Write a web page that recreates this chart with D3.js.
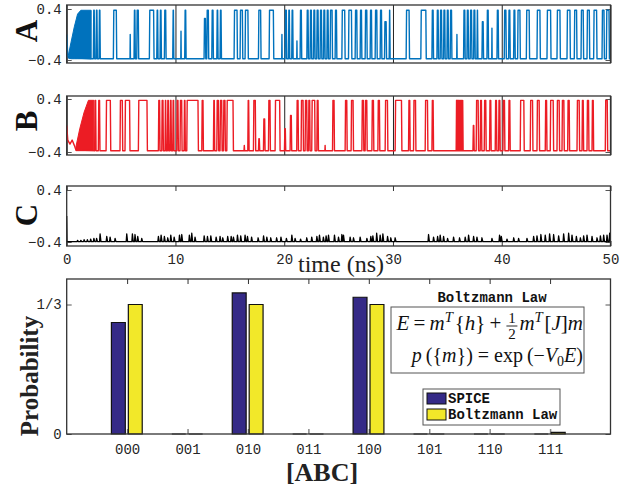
<!DOCTYPE html>
<html>
<head>
    <meta charset="utf-8">
    <title>SPICE vs Boltzmann</title>
</head>
<body>
<style type="text/css">
    body {
        margin: 0;
        background: #fff;
    }

    #renderer {
        width: 629px;
        height: 487px;
        background: #FFF;
        display: block;
    }

    .tick text {
        font-family: 'Liberation Mono', monospace;
        font-size: 14px;
        fill: #262626;
    }
</style>
<script type="text/javascript" src="https://cdnjs.cloudflare.com/ajax/libs/d3/7.8.5/d3.min.js"></script>
<svg id='renderer'></svg>

<script type="text/javascript">
    // ---- data ----
    var timeTicks = [0, 10, 20, 30, 40, 50];
    var levelTicks = [-0.4, 0.4];

    // A (blue) : start, fast burst envelope [t, low, high], pulses [start, end, top]
    var aStart = [[0, 0.0], [0.1, -0.33], [0.15, -0.36]];
    var aBurst = [[0.15, -0.37, -0.33], [0.4, -0.38, -0.12], [0.7, -0.38, 0.12], [1.0, -0.38, 0.32], [1.3, -0.38, 0.38], [2.25, -0.38, 0.38]];
    var aPulses = [
        [2.45, 2.57], [2.70, 2.82], [2.97, 3.09], [4.29, 4.60], [5.82, 5.86, 0.0], [6.19, 6.31], [6.44, 6.62], [7.60, 8.03],
        [8.28, 8.40], [8.58, 8.71], [8.98, 9.14], [9.75, 9.85], [10.49, 10.53, 0.05], [10.85, 10.98], [12.63, 12.79, 0.25],
        [12.88, 13.06], [13.34, 13.49], [13.80, 13.92], [14.10, 14.23], [15.39, 15.70], [15.94, 16.19], [16.40, 16.70],
        [17.63, 17.87], [18.61, 19.04], [19.77, 19.81, 0.0], [20.08, 20.23], [20.39, 20.51], [20.69, 20.82], [21.15, 21.19, -0.1],
        [21.46, 21.61], [22.08, 22.23], [22.38, 22.53], [22.69, 22.84], [22.99, 23.15], [23.30, 23.46], [23.61, 23.76],
        [23.92, 24.07], [24.22, 24.44], [24.68, 24.84], [25.30, 25.60], [25.91, 26.22], [26.52, 26.71], [26.98, 27.14],
        [27.44, 27.63], [27.90, 28.06], [28.36, 28.55], [28.82, 28.98], [29.22, 29.41, 0.2], [29.65, 29.74], [31.21, 31.52],
        [32.56, 33.06], [33.58, 33.73], [34.04, 34.19], [34.34, 34.50], [34.65, 34.80], [34.96, 35.11], [35.26, 35.42],
        [35.86, 35.90, 0.0], [36.49, 36.64], [36.80, 36.95], [37.10, 37.26], [37.41, 37.56], [37.72, 37.81], [38.18, 38.33, 0.2],
        [38.64, 38.79], [39.08, 39.12, 0.1], [39.56, 39.71], [40.23, 40.42], [40.63, 40.78], [41.09, 41.24], [41.46, 41.71],
        [42.26, 42.56], [43.24, 43.55], [44.16, 44.53], [45.08, 45.39], [46.00, 46.31], [46.67, 46.92], [47.29, 47.53],
        [47.84, 48.09], [48.45, 48.76], [49.22, 49.44], [49.62, 49.90]
    ];

    // B (red)
    var bStart = [[0, 0.0], [0.1, -0.22], [0.3, -0.28], [0.5, -0.22], [0.7, -0.3], [0.85, -0.37]];
    var bBurst = [[0.85, -0.38, -0.32], [1.2, -0.38, -0.05], [1.6, -0.38, 0.2], [2.0, -0.38, 0.38], [2.5, -0.38, 0.38]];
    var bPulses = [
        [2.57, 2.70], [2.91, 3.06], [3.62, 4.05], [4.90, 5.15], [5.36, 5.82], [6.59, 7.42], [8.43, 8.58], [8.74, 8.89],
        [9.04, 9.14], [9.26, 9.38], [9.50, 9.63], [9.75, 9.87], [10.12, 10.27], [10.42, 10.61], [10.79, 10.91], [11.04, 12.11],
        [12.42, 12.57], [13.49, 13.61], [13.80, 13.98], [14.10, 14.29], [14.41, 14.59], [14.72, 15.33], [16.30, 16.36, -0.3],
        [16.65, 16.77], [17.17, 17.38], [17.63, 17.75, -0.2], [18.09, 18.24, 0.1], [18.55, 18.73], [19.16, 19.62],
        [20.02, 20.14, -0.05], [20.54, 20.69, 0.15], [21.15, 21.31], [21.55, 21.77], [21.92, 22.11], [22.23, 22.38],
        [22.53, 22.84], [23.00, 23.15], [23.74, 23.78, -0.3], [24.44, 24.62], [25.60, 25.79], [26.15, 26.37], [27.14, 27.32],
        [27.44, 27.63], [28.06, 28.24], [28.61, 28.79], [29.28, 29.53], [30.20, 30.82], [31.43, 31.58], [31.89, 32.11],
        [32.96, 33.21], [33.58, 33.73], [35.81, 35.88], [35.92, 35.99], [36.03, 36.10], [36.14, 36.21], [36.25, 36.32],
        [36.36, 36.45], [37.35, 37.47, 0.0], [37.65, 37.87], [38.02, 38.17], [38.39, 38.57], [38.88, 39.03], [39.40, 39.55],
        [39.71, 39.86], [40.11, 40.29], [40.63, 40.78], [41.70, 42.07], [42.62, 42.87], [43.24, 43.48], [44.00, 44.16],
        [44.46, 44.77], [45.08, 45.32], [45.54, 45.75], [46.06, 46.24], [46.92, 47.16], [47.38, 47.53], [47.84, 48.02],
        [48.30, 48.45], [49.52, 49.74]
    ];

    // C (black) : start, small spikes [t, height above baseline]
    var cStart = [[0, 0.0], [0.03, -0.395]];
    var cSpikes = [
        [1.0, 0.02], [1.3, 0.02], [1.6, 0.03], [1.9, 0.03], [2.2, 0.04], [2.5, 0.05], [2.75, 0.05], [3.07, 0.12], [3.68, 0.08],
        [3.99, 0.07], [4.45, 0.05], [5.52, 0.12], [6.04, 0.12], [6.28, 0.11], [6.53, 0.08], [6.9, 0.05], [8.43, 0.08],
        [8.68, 0.1], [8.98, 0.08], [9.29, 0.06], [9.57, 0.1], [9.88, 0.07], [10.37, 0.1], [10.58, 0.11], [11.28, 0.1],
        [11.5, 0.13], [11.8, 0.07], [12.64, 0.09], [12.94, 0.08], [13.25, 0.09], [13.74, 0.07], [14.1, 0.08], [14.35, 0.06],
        [14.8, 0.08], [15.12, 0.08], [15.33, 0.07], [15.7, 0.1], [16.0, 0.09], [16.4, 0.1], [16.62, 0.08], [17.0, 0.07],
        [17.6, 0.06], [18.1, 0.09], [18.4, 0.07], [18.76, 0.06], [19.3, 0.06], [19.7, 0.07], [20.2, 0.05], [20.7, 0.1],
        [21.0, 0.05], [21.5, 0.04], [22.07, 0.06], [22.53, 0.07], [23.0, 0.08], [23.24, 0.1], [23.6, 0.07], [23.85, 0.09],
        [24.07, 0.1], [24.62, 0.1], [24.99, 0.07], [25.3, 0.11], [25.45, 0.1], [26.06, 0.07], [26.37, 0.06], [26.98, 0.07],
        [27.6, 0.05], [27.96, 0.08], [28.15, 0.09], [28.5, 0.13], [28.82, 0.1], [29.07, 0.12], [29.5, 0.08], [29.8, 0.06],
        [30.2, 0.06], [33.27, 0.11], [33.73, 0.07], [34.1, 0.08], [34.34, 0.1], [34.65, 0.08], [35.02, 0.05], [35.57, 0.07],
        [36.12, 0.06], [36.64, 0.07], [36.95, 0.1], [37.41, 0.08], [37.72, 0.07], [38.18, 0.06], [39.1, 0.05], [39.8, 0.1],
        [39.96, 0.08], [40.48, 0.04], [41.1, 0.06], [41.55, 0.05], [42.32, 0.05], [42.93, 0.08], [43.24, 0.09], [43.6, 0.11],
        [44.0, 0.1], [44.4, 0.12], [44.77, 0.11], [45.23, 0.09], [45.69, 0.12], [46.15, 0.13], [46.46, 0.1], [46.86, 0.08],
        [47.23, 0.06], [47.53, 0.09], [47.84, 0.1], [48.3, 0.08], [48.76, 0.06], [49.07, 0.09], [49.37, 0.1], [49.68, 0.1],
        [49.92, 0.13]
    ];

    // bar chart
    var states = ['000', '001', '010', '011', '100', '101', '110', '111'];
    var spiceProb = [0.287, 0, 0.363, 0, 0.352, 0, 0, 0];
    var boltzmannProb = [1 / 3, 0, 1 / 3, 0, 1 / 3, 0, 0, 0.004];
    var probTicks = [0, 1 / 3];
    var probTickLabels = ['0', '1/3'];
    var seriesNames = ['SPICE', 'Boltzmann Law'];
    var seriesColors = ['#352a87', '#f2e829'];

    // ---- layout ----
    var root = d3.select('#renderer');
    var plotLeft = 66.7;
    var plotRight = 610.5;
    var frameColor = '#333';

    var x = d3.scaleLinear().domain([0, 50]).range([plotLeft, plotRight]);

    var panels = [
        {label: 'A', top: 5, bottom: 63, hi: 9, lo: 60, color: '#0072bd', grid: true, labelY: 31},
        {label: 'B', top: 96, bottom: 155, hi: 99, lo: 152, color: '#ec1c24', grid: true, labelY: 121},
        {label: 'C', top: 186, bottom: 246, hi: 190, lo: 242, color: '#000', grid: false, labelY: 215}
    ];

    function pulseSignal(start, burst, pulses, low) {
        var pts = start.slice();
        pts.push([burst[burst.length - 1][0], low]);
        var rise = 0.04;
        for (var i = 0; i < pulses.length; i++) {
            var s = pulses[i][0], e = pulses[i][1];
            var top = pulses[i].length > 2 ? pulses[i][2] : 0.38;
            pts.push([s, low]);
            if (e - s > 2 * rise) {
                pts.push([s + rise, top]);
                pts.push([e - rise, top]);
            } else {
                pts.push([(s + e) / 2, top]);
            }
            pts.push([e, low]);
        }
        pts.push([50, low]);
        return pts;
    }

    function spikeSignal(start, spikes, base) {
        var pts = start.slice();
        for (var i = 0; i < spikes.length; i++) {
            var t = spikes[i][0];
            pts.push([t - 0.05, base]);
            pts.push([t, base + spikes[i][1]]);
            pts.push([t + 0.08, base]);
        }
        pts.push([50, base]);
        return pts;
    }

    var signals = [
        {pts: pulseSignal(aStart, aBurst, aPulses, -0.38), burst: aBurst},
        {pts: pulseSignal(bStart, bBurst, bPulses, -0.38), burst: bBurst},
        {pts: spikeSignal(cStart, cSpikes, -0.395), burst: null}
    ];

    panels.forEach(function (p, k) {
        var y = d3.scaleLinear().domain([-0.4, 0.4]).range([p.lo, p.hi]);
        var g = root.append('g');
        var h = p.bottom - p.top;

        // vertical grid (A, B) or inward ticks (C)
        if (p.grid) {
            g.append('g')
                .attr('transform', 'translate(0,' + p.bottom + ')')
                .call(d3.axisBottom(x).tickValues(timeTicks).tickSize(-h).tickFormat(''))
                .call(function (a) {
                    a.select('.domain').remove();
                    a.selectAll('line').attr('stroke', '#222').attr('stroke-width', 1);
                });
        } else {
            g.append('g')
                .attr('transform', 'translate(0,' + p.top + ')')
                .call(d3.axisTop(x).tickValues(timeTicks).tickSize(-5).tickFormat(''))
                .call(function (a) {
                    a.select('.domain').remove();
                    a.selectAll('line').attr('stroke', frameColor);
                });
            g.append('g')
                .attr('transform', 'translate(0,' + p.bottom + ')')
                .call(d3.axisBottom(x).tickValues(timeTicks).tickSize(-5).tickPadding(8).tickFormat(d3.format('d')))
                .call(function (a) {
                    a.select('.domain').remove();
                    a.selectAll('line').attr('stroke', frameColor);
                });
        }

        // y ticks left with labels, right without
        g.append('g')
            .attr('transform', 'translate(' + plotLeft + ',0)')
            .call(d3.axisLeft(y).tickValues(levelTicks).tickSize(-5).tickPadding(5).tickFormat(d3.format('.1f')))
            .call(function (a) {
                a.select('.domain').remove();
                a.selectAll('line').attr('stroke', '#555');
            });
        g.append('g')
            .attr('transform', 'translate(' + plotRight + ',0)')
            .call(d3.axisRight(y).tickValues(levelTicks).tickSize(-5).tickFormat(''))
            .call(function (a) {
                a.select('.domain').remove();
                a.selectAll('line').attr('stroke', '#555');
            });

        var s = signals[k];
        if (s.burst) {
            g.append('path')
                .datum(s.burst)
                .attr('d', d3.area()
                    .x(function (d) { return x(d[0]); })
                    .y0(function (d) { return y(d[1]); })
                    .y1(function (d) { return y(d[2]); }))
                .attr('fill', p.color)
                .attr('stroke', p.color)
                .attr('stroke-width', 1);
        }
        g.append('path')
            .datum(s.pts)
            .attr('d', d3.line()
                .x(function (d) { return x(d[0]); })
                .y(function (d) { return y(d[1]); }))
            .attr('fill', 'none')
            .attr('stroke', p.color)
            .attr('stroke-width', k < 2 ? 1.4 : 1.3)
            .attr('stroke-linejoin', 'round');

        // frame
        g.append('rect')
            .attr('x', plotLeft).attr('y', p.top)
            .attr('width', plotRight - plotLeft).attr('height', h)
            .attr('fill', 'none').attr('stroke', frameColor).attr('stroke-width', 1.3);

        // panel letter
        root.append('text')
            .text(p.label)
            .attr('x', 37).attr('y', p.labelY)
            .attr('transform', 'rotate(-90,37,' + p.labelY + ')')
            .attr('text-anchor', 'middle')
            .attr('font-family', 'Liberation Serif')
            .attr('font-weight', 'bold')
            .attr('font-size', 31)
            .attr('fill', '#111');
    });

    root.append('text')
        .text('time (ns)')
        .attr('x', 341).attr('y', 272)
        .attr('text-anchor', 'middle')
        .attr('font-family', 'Liberation Serif')
        .attr('font-size', 24)
        .attr('fill', '#222');

    // ---- bar chart ----
    var barTop = 279, barBottom = 434;
    var xb = d3.scaleLinear().domain([-1, 8]).range([plotLeft, plotRight]);
    var yb = d3.scaleLinear().domain([0, 1 / 3]).range([barBottom, 304.5]);
    var barG = root.append('g');

    barG.append('g')
        .attr('transform', 'translate(0,' + barBottom + ')')
        .call(d3.axisBottom(xb).tickValues(d3.range(states.length)).tickSize(-5).tickPadding(10)
            .tickFormat(function (d) { return states[d]; }))
        .call(function (a) {
            a.select('.domain').remove();
            a.selectAll('line').attr('stroke', '#888').attr('stroke-width', 1.5);
        });
    barG.append('g')
        .attr('transform', 'translate(0,' + barTop + ')')
        .call(d3.axisTop(xb).tickValues(d3.range(states.length)).tickSize(-5).tickFormat(''))
        .call(function (a) {
            a.select('.domain').remove();
            a.selectAll('line').attr('stroke', frameColor);
        });
    barG.append('g')
        .attr('transform', 'translate(' + plotLeft + ',0)')
        .call(d3.axisLeft(yb).tickValues(probTicks).tickSize(-5).tickPadding(5)
            .tickFormat(function (d, i) { return probTickLabels[i]; }))
        .call(function (a) {
            a.select('.domain').remove();
            a.selectAll('line').attr('stroke', '#555');
        });
    barG.append('g')
        .attr('transform', 'translate(' + plotRight + ',0)')
        .call(d3.axisRight(yb).tickValues(probTicks).tickSize(-5).tickFormat(''))
        .call(function (a) {
            a.select('.domain').remove();
            a.selectAll('line').attr('stroke', '#555');
        });

    // bars drawn as closed paths so that zero-height bars still show an edge line
    var series = [
        {values: spiceProb, x0: -0.26, x1: -0.03, color: seriesColors[0]},
        {values: boltzmannProb, x0: 0.02, x1: 0.25, color: seriesColors[1]}
    ];
    series.forEach(function (s) {
        barG.selectAll(null)
            .data(s.values)
            .enter()
            .append('path')
            .attr('d', function (d, i) {
                var l = xb(i + s.x0), r = xb(i + s.x1);
                return 'M' + l + ',' + yb(0) + 'H' + r + 'V' + yb(d) + 'H' + l + 'Z';
            })
            .attr('fill', s.color)
            .attr('stroke', '#111')
            .attr('stroke-width', 1.2);
    });

    barG.append('rect')
        .attr('x', plotLeft).attr('y', barTop)
        .attr('width', plotRight - plotLeft).attr('height', barBottom - barTop)
        .attr('fill', 'none').attr('stroke', frameColor).attr('stroke-width', 1.3);

    root.append('text')
        .text('Probability')
        .attr('x', 38).attr('y', 376)
        .attr('transform', 'rotate(-90,38,376)')
        .attr('text-anchor', 'middle')
        .attr('font-family', 'Liberation Serif')
        .attr('font-weight', 'bold')
        .attr('font-size', 25)
        .attr('fill', '#222');

    root.append('text')
        .text('[ABC]')
        .attr('x', 322).attr('y', 481)
        .attr('text-anchor', 'middle')
        .attr('font-family', 'Liberation Serif')
        .attr('font-weight', 'bold')
        .attr('font-size', 26)
        .attr('fill', '#222');

    // ---- equation box ----
    root.append('text')
        .text('Boltzmann Law')
        .attr('x', 492).attr('y', 302)
        .attr('text-anchor', 'middle')
        .attr('font-family', 'Liberation Mono')
        .attr('font-weight', 'bold')
        .attr('font-size', 14)
        .attr('fill', '#111');

    root.append('rect')
        .attr('x', 391).attr('y', 307).attr('width', 193).attr('height', 66)
        .attr('fill', '#fff').attr('stroke', '#555').attr('stroke-width', 1);

    function mathRun(x0, y0, parts, size, measureOnly) {
        var t = root.append('text')
            .attr('x', x0).attr('y', y0)
            .attr('font-family', 'Liberation Serif')
            .attr('font-size', size)
            .attr('fill', '#111');
        var shift = 0;
        parts.forEach(function (p) {
            var sp = t.append('tspan').text(p[0]);
            var want = 0;
            if (p[1] === 'i') sp.attr('font-style', 'italic');
            if (p[1] === 'sup') { sp.attr('font-style', 'italic').attr('font-size', size * 0.7); want = -8; }
            if (p[1] === 'sub') { sp.attr('font-size', size * 0.7); want = 4; }
            if (want !== shift) sp.attr('dy', want - shift);
            shift = want;
        });
        var w = t.node().getComputedTextLength();
        if (measureOnly) t.remove();
        return {node: t, width: w};
    }

    var eqRight = 583;
    var line1Left = [['E', 'i'], ['\u2009=\u2009', 'r'], ['m', 'i'], ['T', 'sup'], ['\u200a{', 'r'], ['h', 'i'], ['}\u2009+', 'r']];
    var line1Right = [['m', 'i'], ['T', 'sup'], ['\u200a[', 'r'], ['J', 'i'], [']', 'r'], ['m', 'i']];
    var line2 = [['p', 'i'], ['\u2009({', 'r'], ['m', 'i'], ['}) = exp\u2009(\u2212', 'r'], ['V', 'i'], ['0', 'sub'], ['E', 'i'], [')', 'r']];

    var wl = mathRun(0, 0, line1Left, 21, true).width;
    var wr = mathRun(0, 0, line1Right, 21, true).width;
    var fracW = 11, fracGap = 5;
    var x1 = eqRight - (wl + fracGap + fracW + 2 + wr);
    mathRun(x1, 330, line1Left, 21, false);
    var fx = x1 + wl + fracGap + fracW / 2;
    root.append('text').text('1').attr('x', fx).attr('y', 323)
        .attr('text-anchor', 'middle').attr('font-family', 'Liberation Serif').attr('font-size', 15).attr('fill', '#111');
    root.append('line').attr('x1', fx - fracW / 2).attr('x2', fx + fracW / 2).attr('y1', 326).attr('y2', 326)
        .attr('stroke', '#111').attr('stroke-width', 0.9);
    root.append('text').text('2').attr('x', fx).attr('y', 339)
        .attr('text-anchor', 'middle').attr('font-family', 'Liberation Serif').attr('font-size', 15).attr('fill', '#111');
    mathRun(x1 + wl + fracGap + fracW + 2, 330, line1Right, 21, false);

    var w2 = mathRun(0, 0, line2, 20, true).width;
    mathRun(eqRight - w2, 362, line2, 20, false);

    // ---- legend ----
    var legend = root.append('g');
    legend.append('rect')
        .attr('x', 423).attr('y', 389).attr('width', 137).attr('height', 36)
        .attr('fill', '#fff').attr('stroke', '#555').attr('stroke-width', 1);
    seriesNames.forEach(function (name, i) {
        legend.append('rect')
            .attr('x', 427).attr('y', 393 + i * 16).attr('width', 19).attr('height', 11)
            .attr('fill', seriesColors[i]).attr('stroke', '#111').attr('stroke-width', 1);
        legend.append('text')
            .text(name)
            .attr('x', 448).attr('y', 403 + i * 16)
            .attr('font-family', 'Liberation Mono')
            .attr('font-weight', 'bold')
            .attr('font-size', 14)
            .attr('fill', '#111');
    });
</script>
</body>
</html>
